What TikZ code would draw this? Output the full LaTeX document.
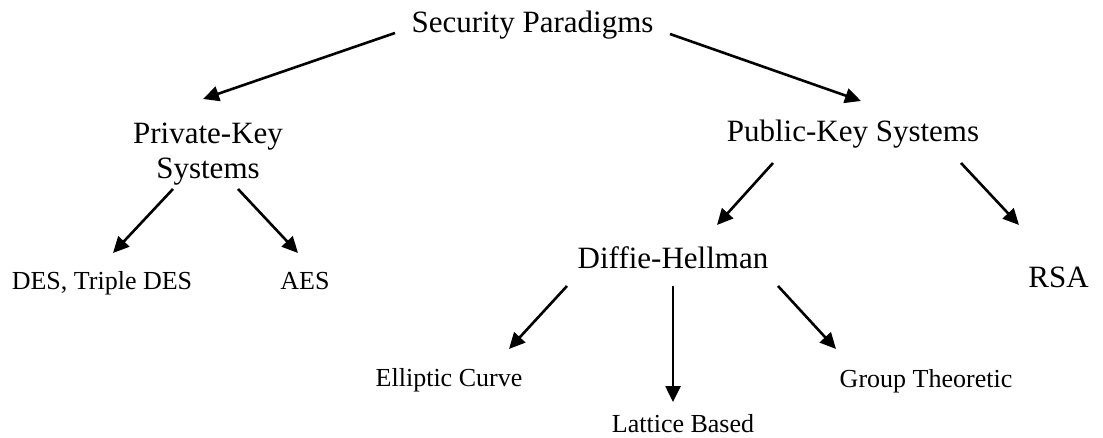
\documentclass[tikz,border=0pt]{standalone}
\usepackage{fontspec}
\setmainfont{Liberation Serif}
\usetikzlibrary{arrows.meta}

\tikzset{
  big/.style={font=\fontsize{31}{35}\selectfont, inner sep=0pt, anchor=base},
  small/.style={font=\fontsize{26}{30}\selectfont, inner sep=0pt, anchor=base},
  arr/.style={line width=2.6pt, -{Triangle[length=16pt,width=15pt]}},
}

\begin{document}
\begin{tikzpicture}[x=1pt, y=-1pt]
  \useasboundingbox (0,0) rectangle (1103,438);

  % top level
  \node[big] (sp) at (532.5,33) {Security Paradigms};

  % second level
  \node[big, align=center, anchor=center] (priv) at (208,154.3) {Private-Key\\Systems};
  \node[big] (pub) at (853,142) {Public-Key Systems};

  % private-key leaves
  \node[small] (des) at (102,290) {DES, Triple DES};
  \node[small] (aes) at (305,290) {AES};

  % public-key children
  \node[big] (dh) at (673,269) {Diffie-Hellman};
  \node[big] (rsa) at (1058.5,288) {RSA};

  % Diffie-Hellman variants
  \node[small] (ec) at (449,386) {Elliptic Curve};
  \node[small] (lb) at (683,432) {Lattice Based};
  \node[small] (gt) at (926,387) {Group Theoretic};

  % connectors
  \draw[arr] ([shift={(-137.5,0)}]sp.base) -- ([shift={(-5,-55.3)}]priv.center);
  \draw[arr] ([shift={(137.5,1)}]sp.base) -- ([shift={(8,-41)}]pub.base);

  \draw[arr] ([shift={(-35,34.7)}]priv.center) -- ([shift={(11,-37)}]des.base);
  \draw[arr] ([shift={(30,34.7)}]priv.center) -- ([shift={(-7,-37)}]aes.base);

  \draw[arr] ([shift={(-80,21)}]pub.base) -- ([shift={(44,-44)}]dh.base);
  \draw[arr] ([shift={(108,21)}]pub.base) -- ([shift={(-39.5,-63)}]rsa.base);

  \draw[arr] ([shift={(-106,17)}]dh.base) -- ([shift={(60,-37)}]ec.base);
  \draw[arr] ([shift={(0,17)}]dh.base) -- ([shift={(-10,-30)}]lb.base);
  \draw[arr] ([shift={(105,17)}]dh.base) -- ([shift={(-90,-38)}]gt.base);
\end{tikzpicture}
\end{document}
